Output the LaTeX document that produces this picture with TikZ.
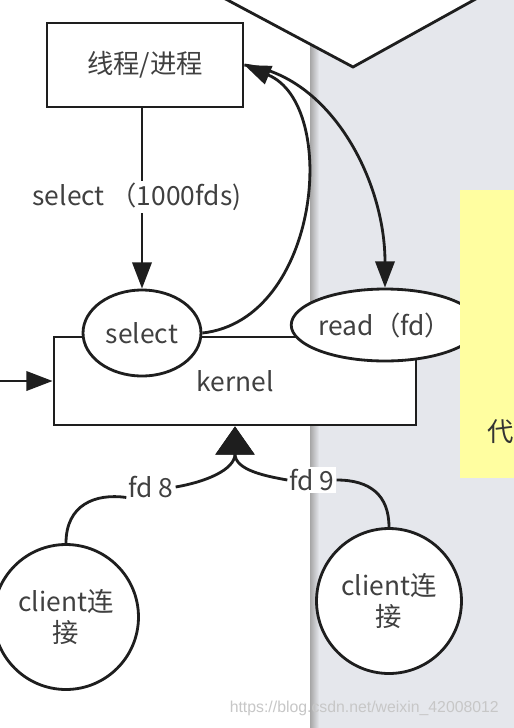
\documentclass[tikz,border=0pt]{standalone}
\usepackage{fontspec}
\setmainfont{Noto Sans CJK SC}
\newfontfamily\markfont{Liberation Sans}
\usetikzlibrary{arrows.meta, positioning, calc, shapes.geometric}
\definecolor{panelgray}{RGB}{229,231,236}
\definecolor{notey}{RGB}{255,254,160}
\definecolor{inkc}{RGB}{30,30,30}

\begin{document}
\begin{tikzpicture}[x=0.02cm, y=-0.02cm,
    every node/.style={font=\fontsize{15}{18}\selectfont, text=black!75},
    wire/.style={draw=inkc, line width=1.6pt},
    arr/.style={wire, -{Triangle[length=15pt, width=11pt]}},
    bigarr/.style={wire, -{Triangle[length=16pt, width=22pt]}},
    sqbox/.style={wire, fill=white, inner sep=0pt},
    callell/.style={wire, ellipse, fill=white, inner sep=0pt},
    client/.style={wire, circle, fill=white, align=center, minimum size=2.9cm, inner sep=0pt},
    lbl/.style={fill=white, inner sep=1pt}]
  \useasboundingbox (0,0) rectangle (514,728);
  \clip (0,0) rectangle (514,728);
  \fill[white] (0,0) rectangle (514,728);
  \fill[panelgray] (310,0) rectangle (514,728);
  \shade[left color=black!35, right color=panelgray] (310,0) rectangle (319,728);
  \filldraw[wire, fill=white] (190,-20) -- (353,67) -- (510,-20);

  \node[sqbox, minimum width=7.24cm, minimum height=1.76cm] (kernel) at (235,381) {kernel};
  \node[callell, minimum width=2.36cm, minimum height=1.72cm] (sel) at (142,333) {select};
  \node[callell, minimum width=3.6cm, minimum height=1.44cm] (rd) at (385,325) {read（fd）};
  \node[sqbox, minimum width=3.92cm, minimum height=1.68cm] (proc) at (145,65) {线程/进程};

  \draw[arr] (proc.south -| sel.north) -- (sel.north);
  \node[lbl] (cnt) at (137,197) {select （1000fds)};
  \draw[arr] (sel.east) .. controls (320,320) and (340,105) .. (proc.east);
  \draw[arr] (proc.east) .. controls (330,75) and (385,180) .. (rd.north);
  \coordinate (in) at (-10,381);
  \draw[arr] (in) -- (kernel.west);

  \node[client] (c1) at (66,617) {client连\\接};
  \node[client] (c2) at (389,601) {client连\\接};
  \node[inner sep=1pt] (f8) at (151,487) {fd 8};
  \node[lbl] (f9) at (312,480) {fd 9};
  \draw[wire] (c1.north) .. controls (66,505) and (95,493) .. (f8.base west);
  \draw[bigarr] (f8.east) .. controls (205,482) and (235,470) .. (kernel.south);
  \draw[wire] (c2.north) .. controls (389,495) and (370,480) .. (f9.east);
  \draw[bigarr] (f9.west) .. controls (265,476) and (235,470) .. (kernel.south);

  \fill[notey] (460,190) rectangle (520,478);
  \node[anchor=west, text=black!80, inner sep=1pt] (dai) at (485,432) {代};
  \node[anchor=east, font=\markfont\fontsize{9}{11}\selectfont, text=black!22] (wm) at (505,708) {https://blog.csdn.net/weixin\_42008012};
\end{tikzpicture}
\end{document}
